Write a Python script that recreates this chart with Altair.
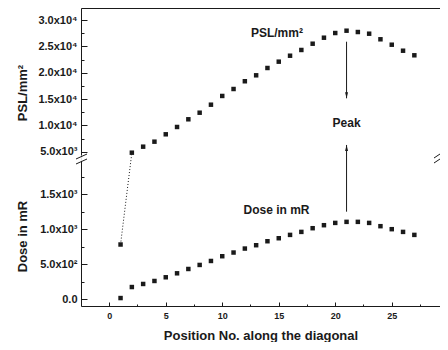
import altair as alt
import pandas as pd

# ---------------- data ----------------
positions = list(range(1, 28))
psl_positions = list(range(2, 28))
psl_values = [4810, 5950, 6900, 8300, 9690, 11150, 12400, 13920, 15580, 16900,
              18370, 19500, 20890, 22090, 23220, 24310, 25500, 26640, 27530, 27970,
              27720, 27400, 26340, 25310, 24170, 23300]
dose_values = [14, 172, 216, 259, 312, 369, 431, 489, 546, 614, 667, 724, 772, 829,
               872, 920, 963, 1016, 1059, 1092, 1107, 1107, 1092, 1045, 1002, 963, 920]
# position-1 PSL point, drawn below the axis break (read on the dose axis)
jump_positions = [1, 2]
jump_values = [782, 2099]

psl_ticks = [5000, 10000, 15000, 20000, 25000, 30000]
psl_tick_labels = ["5.0x10³", "1.0x10⁴", "1.5x10⁴", "2.0x10⁴", "2.5x10⁴", "3.0x10⁴"]
psl_minor = [7500, 12500, 17500, 22500, 27500]
dose_ticks = [0, 500, 1000, 1500]
dose_tick_labels = ["0.0", "5.0x10²", "1.0x10³", "1.5x10³"]
dose_minor = [250, 750, 1250, 1750]
x_ticks = [0, 5, 10, 15, 20, 25, 30]
x_minor = [2.5, 7.5, 12.5, 17.5, 22.5, 27.5]

peak_position = 21
down_arrow = [25880, 15135]      # PSL axis
up_arrow = [1253, 2210]          # dose axis
psl_note = {"pos": 14.84, "val": 27530, "text": "PSL/mm²"}
peak_note = {"pos": 21.0, "val": 10390, "text": "Peak"}
dose_note = {"pos": 14.8, "val": 1277, "text": "Dose in mR"}

# ---------------- style ----------------
INK = "#1a1a1a"
FONT = "Liberation Sans"
W, H = 359, 298

xs = alt.Scale(domain=[-2.5, 29.27], nice=False, zero=False)
psl_scale = alt.Scale(domain=[4370, 32280], range=[147, 0], nice=False, zero=False)
dose_scale = alt.Scale(domain=[-100, 1980], range=[298, 153], nice=False, zero=False)


def label_expr(vals, labels):
    expr = "''"
    for v, l in reversed(list(zip(vals, labels))):
        expr = f"datum.value == {v} ? '{l}' : ({expr})"
    return expr


def tick_axis(orient, values, size):
    return alt.Axis(orient=orient, values=values, offset=-size, tickSize=size,
                    tickColor=INK, tickWidth=1, labels=False, domain=False,
                    grid=False, title="")


x_main = alt.Axis(orient="bottom", values=x_ticks, ticks=False, domain=True,
                  domainColor=INK, domainWidth=1, labelFont=FONT, labelFontSize=9,
                  labelFontWeight="bold", labelColor=INK, labelPadding=5, grid=False,
                  title="Position No. along the diagonal", titleFont=FONT,
                  titleFontSize=13, titleFontWeight="bold", titleColor=INK,
                  titleY=29, titleBaseline="middle")
x_top = alt.Axis(orient="top", ticks=False, labels=False, domain=True,
                 domainColor=INK, domainWidth=1, grid=False, title="")


def y_main(values, labels, title, title_y):
    return alt.Axis(orient="left", values=values, labelExpr=label_expr(values, labels),
                    ticks=False, domain=True, domainColor=INK, domainWidth=1,
                    labelFont=FONT, labelFontSize=11, labelFontWeight="bold",
                    labelColor=INK, labelPadding=4, grid=False, title=title,
                    titleFont=FONT, titleFontSize=13, titleFontWeight="bold",
                    titleColor=INK, titleAngle=270, titleAlign="center",
                    titleBaseline="middle", titleX=-58.5, titleY=title_y)


psl_df = pd.DataFrame({"pos": psl_positions, "val": psl_values})
dose_df = pd.DataFrame({"pos": positions, "val": dose_values})
jump_df = pd.DataFrame({"pos": jump_positions, "val": jump_values})
first_df = jump_df.iloc[[0]]

X = lambda axis: alt.X("pos:Q", scale=xs, axis=axis)

psl_pts = alt.Chart(psl_df).mark_square(size=20, color=INK, opacity=1).encode(
    x=X(x_main), y=alt.Y("val:Q", scale=psl_scale,
                         axis=y_main(psl_ticks, psl_tick_labels, "PSL/mm²", 84.5)))
psl_major = alt.Chart(psl_df).mark_square(opacity=0).encode(
    x=X(tick_axis("bottom", x_ticks, 4)),
    y=alt.Y("val:Q", scale=psl_scale, axis=tick_axis("left", psl_ticks, 6)))
psl_min = alt.Chart(psl_df).mark_square(opacity=0).encode(
    x=X(tick_axis("bottom", x_minor, 2)),
    y=alt.Y("val:Q", scale=psl_scale, axis=tick_axis("left", psl_minor, 3)))

dose_pts = alt.Chart(dose_df).mark_square(size=20, color=INK, opacity=1).encode(
    x=X(x_top), y=alt.Y("val:Q", scale=dose_scale,
                        axis=y_main(dose_ticks, dose_tick_labels, "Dose in mR", 228)))
dose_major = alt.Chart(dose_df).mark_square(opacity=0).encode(
    x=X(None), y=alt.Y("val:Q", scale=dose_scale, axis=tick_axis("left", dose_ticks, 6)))
dose_min = alt.Chart(dose_df).mark_square(opacity=0).encode(
    x=X(None), y=alt.Y("val:Q", scale=dose_scale, axis=tick_axis("left", dose_minor, 3)))

jump_line = alt.Chart(jump_df).mark_line(color=INK, strokeWidth=1, strokeDash=[1, 2],
                                         clip=False).encode(
    x=X(None), y=alt.Y("val:Q", scale=dose_scale, axis=None))
first_pt = alt.Chart(first_df).mark_square(size=20, color=INK, opacity=1).encode(
    x=X(None), y=alt.Y("val:Q", scale=dose_scale, axis=None))

down_df = pd.DataFrame({"pos": [peak_position], "a": [down_arrow[0]], "b": [down_arrow[1]]})
up_df = pd.DataFrame({"pos": [peak_position], "a": [up_arrow[0]], "b": [up_arrow[1]]})

down_rule = alt.Chart(down_df).mark_rule(color=INK, strokeWidth=1).encode(
    x=X(None), y=alt.Y("a:Q", scale=psl_scale, axis=None), y2="b:Q")
down_head = alt.Chart(down_df).mark_point(shape="M-0.3,-1.2L0.3,-1.2L0,0Z", filled=True,
                                          size=100, color=INK, opacity=1).encode(
    x=X(None), y=alt.Y("b:Q", scale=psl_scale, axis=None))
up_rule = alt.Chart(up_df).mark_rule(color=INK, strokeWidth=1, clip=False).encode(
    x=X(None), y=alt.Y("a:Q", scale=dose_scale, axis=None), y2="b:Q")
up_head = alt.Chart(up_df).mark_point(shape="M-0.3,1.2L0.3,1.2L0,0Z", filled=True,
                                      size=100, color=INK, opacity=1, clip=False).encode(
    x=X(None), y=alt.Y("b:Q", scale=dose_scale, axis=None))


def note(d, scale):
    df = pd.DataFrame([d])
    return alt.Chart(df).mark_text(font=FONT, fontWeight="bold", fontSize=12, color=INK,
                                   align="center", baseline="middle").encode(
        x=X(None), y=alt.Y("val:Q", scale=scale, axis=None), text="text:N")


one = pd.DataFrame({"k": [0]})


def brk(x1, y1, x2, y2):
    return alt.Chart(one).mark_rule(color=INK, strokeWidth=1).encode(
        x=alt.value(x1), y=alt.value(y1), x2=alt.value(x2), y2=alt.value(y2))


chart = alt.layer(
    psl_pts, psl_major, psl_min, dose_pts, dose_major, dose_min,
    jump_line, first_pt, down_rule, down_head, up_rule, up_head,
    note(psl_note, psl_scale), note(peak_note, psl_scale), note(dose_note, dose_scale),
    brk(-5, 151, 6, 146), brk(-5, 156, 6, 151),
    brk(353, 150, 359, 146), brk(353, 155, 359, 151),
).resolve_scale(x="independent", y="independent").resolve_axis(
    x="independent", y="independent"
).properties(
    width=W, height=H,
    autosize=alt.AutoSizeParams(type="none"),
    padding={"left": 73, "top": 0, "right": 0, "bottom": 36},
).configure_view(stroke="transparent").configure(background="white")

chart.save("out.html", embed_options={"renderer": "svg", "actions": False})
